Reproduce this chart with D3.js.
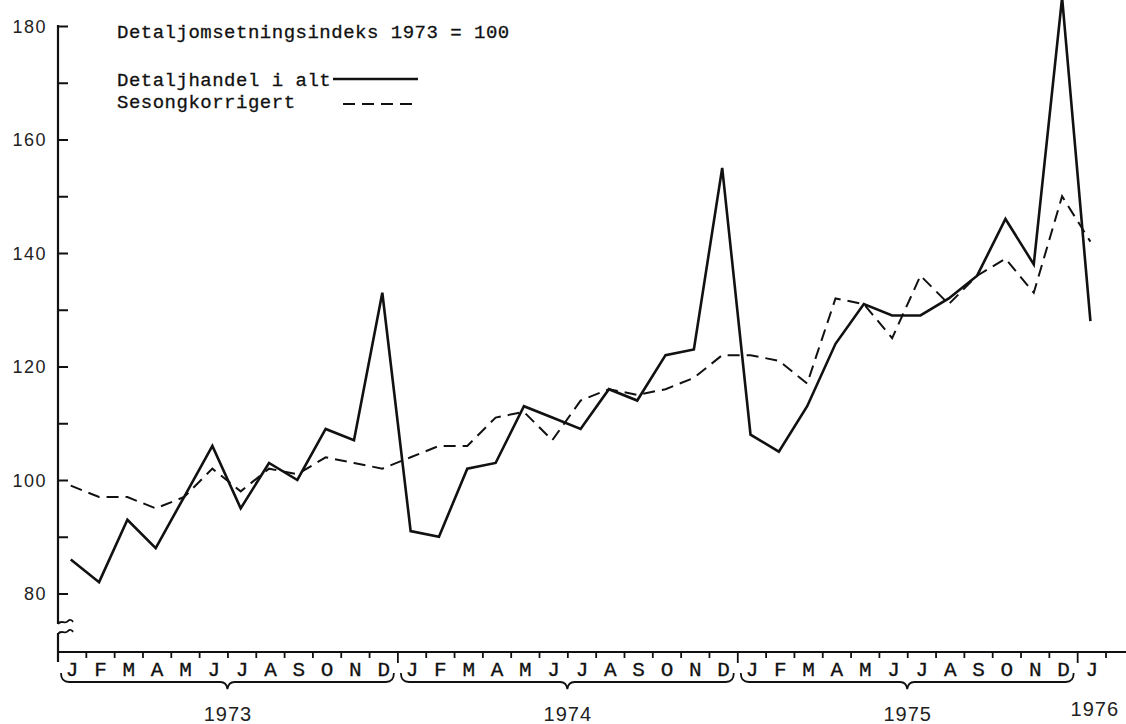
<!DOCTYPE html>
<html>
<head>
<meta charset="utf-8">
<script src="https://cdn.jsdelivr.net/npm/d3@7"></script>
<style>
  html, body { margin: 0; padding: 0; background: #fff; }
  svg { display: block; }
  .mono { font-family: "Liberation Mono", "Courier New", monospace; fill: #111; stroke: #111; stroke-width: 0.3px; }
  .ylab text { font-family: "Liberation Sans", Arial, sans-serif; font-size: 18px; letter-spacing: 1.5px; fill: #222; }
</style>
</head>
<body>
<div id="chart"></div>
<script>
// Detaljomsetningsindeks, jan 1973 - jan 1976 (1973 = 100)
const monthLetters = ['J', 'F', 'M', 'A', 'M', 'J', 'J', 'A', 'S', 'O', 'N', 'D'];
const years = ['1973', '1974', '1975'];
const lastLabel = 'J';
const lastYear = '1976';

const detaljhandel = [
  86, 82, 93, 88, 97, 106, 95, 103, 100, 109, 107, 133,
  91, 90, 102, 103, 113, 111, 109, 116, 114, 122, 123, 155,
  108, 105, 113, 124, 131, 129, 129, 132, 136, 146, 138, 185,
  128
];
const sesongkorrigert = [
  99, 97, 97, 95, 97, 102, 98, 102, 101, 104, 103, 102,
  104, 106, 106, 111, 112, 107, 114, 116, 115, 116, 118, 122,
  122, 121, 117, 132, 131, 125, 136, 131, 136, 139, 133, 150,
  142
];
const yTicks = [80, 90, 100, 110, 120, 130, 140, 150, 160, 170, 180];

const title = 'Detaljomsetningsindeks 1973 = 100';
const legendNames = ['Detaljhandel i alt', 'Sesongkorrigert'];

const width = 1126;
const height = 724;
const axisX = 58;
const axisY = 652;

const svg = d3.select('#chart')
  .append('svg')
  .attr('width', width)
  .attr('height', height);

// scales: one unit per month, points in the middle of the month
const x = d3.scaleLinear().domain([0, 37]).range([axisX, 1106]);
const y = d3.scaleLinear().domain([80, 180]).range([593.5, 26]);
const px = i => x(i + 0.45);

// y axis (line drawn by hand because of the break)
const yAxis = d3.axisLeft(y)
  .tickValues(yTicks)
  .tickSizeInner(-10)
  .tickSizeOuter(0)
  .tickPadding(11)
  .tickFormat(v => v % 20 === 0 ? v : '');

const yg = svg.append('g')
  .attr('class', 'ylab')
  .attr('transform', `translate(${axisX},0)`)
  .call(yAxis);
yg.select('.domain').remove();
yg.selectAll('.tick line').attr('stroke', '#111').attr('stroke-width', 2);
yg.selectAll('.tick text').attr('dy', '0.36em');

const axisLine = svg.append('g')
  .attr('fill', 'none')
  .attr('stroke', '#111')
  .attr('stroke-width', 2.2);

axisLine.append('line')
  .attr('x1', axisX).attr('x2', axisX)
  .attr('y1', y(180) - 1).attr('y2', 624);
axisLine.append('line')
  .attr('x1', axisX).attr('x2', axisX)
  .attr('y1', 633).attr('y2', 662);

// break marks
[624, 634].forEach(by => {
  axisLine.append('path')
    .attr('stroke-width', 1.8)
    .attr('d', `M${axisX},${by} C${axisX + 3},${by - 5} ${axisX + 7},${by + 1} ${axisX + 10},${by - 3} C${axisX + 12},${by - 5} ${axisX + 14},${by - 4} ${axisX + 15},${by - 2}`);
});

// x axis
axisLine.append('line')
  .attr('x1', axisX).attr('x2', width)
  .attr('y1', axisY).attr('y2', axisY);

const xTicks = d3.range(1, 38);
svg.append('g')
  .selectAll('line')
  .data(xTicks)
  .enter()
  .append('line')
  .attr('x1', d => x(d))
  .attr('x2', d => x(d))
  .attr('y1', axisY)
  .attr('y2', d => d % 12 === 0 ? axisY + 11 : axisY + 6)
  .attr('stroke', '#111')
  .attr('stroke-width', 1.8);

// month letters
const monthLabels = [];
years.forEach(() => monthLetters.forEach(m => monthLabels.push(m)));
monthLabels.push(lastLabel);

svg.append('g')
  .selectAll('text')
  .data(monthLabels)
  .enter()
  .append('text')
  .attr('class', 'mono')
  .attr('x', (d, i) => x(i + 0.5))
  .attr('y', 676)
  .attr('text-anchor', 'middle')
  .style('font-size', '21px')
  .text(d => d);

// braces under each year
function bracePath(x0, x1) {
  const mid = (x0 + x1) / 2;
  const top = 673, base = 682, tip = 689;
  return `M${x0},${top} Q${x0},${base} ${x0 + 8},${base} L${mid - 7},${base} Q${mid - 1},${base} ${mid},${tip}` +
    ` Q${mid + 1},${base} ${mid + 7},${base} L${x1 - 8},${base} Q${x1},${base} ${x1},${top}`;
}

svg.append('g')
  .selectAll('path')
  .data(years)
  .enter()
  .append('path')
  .attr('d', (d, i) => bracePath(x(i * 12) + 3, x(i * 12 + 12) - 4))
  .attr('fill', 'none')
  .attr('stroke', '#111')
  .attr('stroke-width', 1.8);

svg.append('g')
  .selectAll('text')
  .data(years)
  .enter()
  .append('text')
  .attr('x', (d, i) => (x(i * 12) + x(i * 12 + 12)) / 2)
  .attr('y', 721)
  .attr('text-anchor', 'middle')
  .style('font-family', '"Liberation Sans", Arial, sans-serif')
  .style('font-size', '20px')
  .style('letter-spacing', '1px')
  .style('fill', '#222')
  .text(d => d);

svg.append('text')
  .attr('x', x(36.5) + 3)
  .attr('y', 716)
  .attr('text-anchor', 'middle')
  .style('font-family', '"Liberation Sans", Arial, sans-serif')
  .style('font-size', '20px')
  .style('letter-spacing', '1px')
  .style('fill', '#222')
  .text(lastYear);

// series
const line = d3.line()
  .x((d, i) => px(i))
  .y(d => y(d));

svg.append('path')
  .datum(sesongkorrigert)
  .attr('d', line)
  .attr('fill', 'none')
  .attr('stroke', '#111')
  .attr('stroke-width', 2)
  .attr('stroke-dasharray', '12,7');

svg.append('path')
  .datum(detaljhandel)
  .attr('d', line)
  .attr('fill', 'none')
  .attr('stroke', '#111')
  .attr('stroke-width', 2.6)
  .attr('stroke-linejoin', 'miter');

// title and legend
const textStyle = sel => sel
  .attr('class', 'mono')
  .style('font-size', '19px')
  .style('letter-spacing', '0.5px');

svg.append('text').call(textStyle)
  .attr('x', 117).attr('y', 38)
  .text(title);

svg.append('text').call(textStyle)
  .attr('x', 117).attr('y', 86)
  .text(legendNames[0]);

svg.append('text').call(textStyle)
  .attr('x', 117).attr('y', 108)
  .text(legendNames[1]);

svg.append('line')
  .attr('x1', 333).attr('x2', 418)
  .attr('y1', 79).attr('y2', 79)
  .attr('stroke', '#111')
  .attr('stroke-width', 2.6);

svg.append('line')
  .attr('x1', 343).attr('x2', 418)
  .attr('y1', 104).attr('y2', 104)
  .attr('stroke', '#111')
  .attr('stroke-width', 2)
  .attr('stroke-dasharray', '12,7');
</script>
</body>
</html>
